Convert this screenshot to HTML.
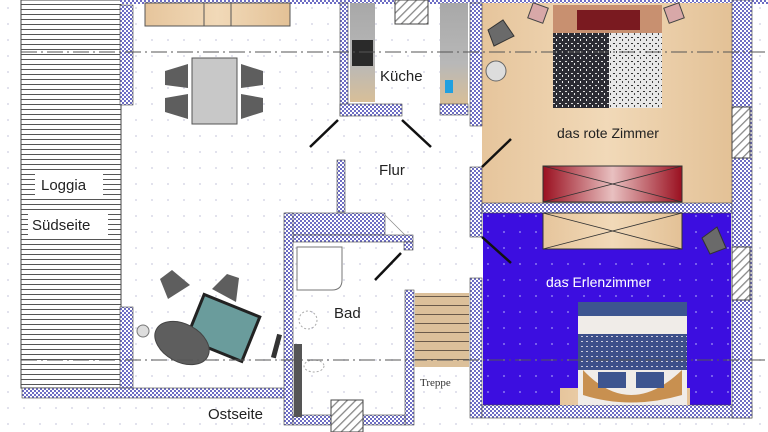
<!DOCTYPE html>
<html><head><meta charset="utf-8"><style>
html,body{margin:0;padding:0;background:#fff;width:768px;height:432px;overflow:hidden}
svg{display:block}
text{font-family:"Liberation Sans",sans-serif}
</style></head><body>
<svg width="768" height="432" viewBox="0 0 768 432" xmlns="http://www.w3.org/2000/svg">
<defs>
<pattern id="w" width="4" height="4" patternUnits="userSpaceOnUse">
<rect width="4" height="4" fill="#fff"/><rect width="2" height="2" fill="#6e6ec4"/><rect x="2" y="2" width="2" height="2" fill="#6e6ec4"/>
</pattern>
<pattern id="lg" width="10" height="5" patternUnits="userSpaceOnUse">
<rect width="10" height="5" fill="#fff"/><rect y="4" width="10" height="1" fill="#555"/>
</pattern>
<pattern id="h" width="6" height="6" patternUnits="userSpaceOnUse" patternTransform="rotate(45)">
<rect width="6" height="6" fill="#fff"/><rect width="1.3" height="6" fill="#888"/>
</pattern>
<pattern id="st" width="10" height="9" patternUnits="userSpaceOnUse">
<rect width="10" height="9" fill="#dcc09a"/><rect y="8" width="10" height="1.3" fill="#6a5a4a"/>
</pattern>
<pattern id="dots" width="16" height="16" patternUnits="userSpaceOnUse">
<circle cx="8" cy="8" r="1" fill="#d8d8e8"/>
</pattern>
<pattern id="bdots" width="16" height="16" patternUnits="userSpaceOnUse">
<rect width="16" height="16" fill="#3c0ee0"/><circle cx="8" cy="8" r="1" fill="#8a78f0"/>
</pattern>
<pattern id="sp1" width="6" height="6" patternUnits="userSpaceOnUse">
<rect width="6" height="6" fill="#2c2c34"/><rect x="1" y="1" width="2" height="1" fill="#ddd"/><rect x="4" y="3" width="1" height="2" fill="#eee"/>
</pattern>
<pattern id="sp2" width="6" height="6" patternUnits="userSpaceOnUse">
<rect width="6" height="6" fill="#e8e8e8"/><rect x="1" y="1" width="2" height="1" fill="#333"/><rect x="4" y="3" width="1" height="2" fill="#444"/>
</pattern>
<pattern id="sp3" width="5" height="5" patternUnits="userSpaceOnUse">
<rect width="5" height="5" fill="#3d4f8a"/><rect x="1" y="1" width="2" height="1" fill="#ccd"/>
</pattern>
<linearGradient id="tan" x1="0" x2="1"><stop offset="0" stop-color="#e6c59c"/><stop offset=".5" stop-color="#f1d9b8"/><stop offset="1" stop-color="#e3c196"/></linearGradient>
<linearGradient id="red" x1="0" x2="1"><stop offset="0" stop-color="#9a1020"/><stop offset=".5" stop-color="#e8c0c0"/><stop offset="1" stop-color="#9a1020"/></linearGradient>
<linearGradient id="gr" x1="0" x2="0" y1="0" y2="1"><stop offset="0" stop-color="#a8a8a8"/><stop offset=".6" stop-color="#b8b8b8"/><stop offset="1" stop-color="#d8bf98"/></linearGradient>
</defs>
<rect width="768" height="432" fill="url(#dots)"/>
<!-- Loggia -->
<rect x="21" y="0" width="100" height="388" fill="url(#lg)" stroke="#444" stroke-width="1"/>
<rect x="35" y="173" width="68" height="22" fill="#fff"/>
<rect x="28" y="213" width="80" height="22" fill="#fff"/>
<text x="41" y="190" font-size="15" fill="#222">Loggia</text>
<text x="32" y="230" font-size="15" fill="#222">Südseite</text>
<!-- walls living -->
<rect x="120" y="0" width="650" height="4" fill="url(#w)"/>
<rect x="120" y="5" width="13" height="100" fill="url(#w)" stroke="#444" stroke-width=".6"/>
<rect x="120" y="307" width="13" height="81" fill="url(#w)" stroke="#444" stroke-width=".6"/>
<rect x="22" y="388" width="263" height="10" fill="url(#w)" stroke="#444" stroke-width=".6"/>
<!-- couch -->
<rect x="145" y="3" width="145" height="23" fill="url(#tan)" stroke="#555"/>
<line x1="204" y1="3" x2="204" y2="26" stroke="#555"/><line x1="231" y1="3" x2="231" y2="26" stroke="#555"/>
<!-- table -->
<rect x="192" y="58" width="45" height="66" fill="#c8c8c8" stroke="#555"/>
<g fill="#5e5e5e"><polygon points="188,64 165,71 165,85 188,88"/><polygon points="188,94 165,98 165,112 188,119"/><polygon points="241,64 263,71 263,85 241,88"/><polygon points="241,94 263,98 263,112 241,119"/></g>
<!-- lounge -->
<polygon points="160,279 172,270 190,285 168,299" fill="#5e5e5e"/>
<polygon points="212,289 227,274 239,278 236,302" fill="#5e5e5e"/>
<g transform="rotate(22 220 330)"><rect x="192" y="303" width="60" height="48" fill="#6a9c9c" stroke="#222" stroke-width="3"/></g>
<ellipse cx="182" cy="343" rx="29" ry="19" transform="rotate(28 182 343)" fill="#5e5e5e" stroke="#444"/>
<circle cx="143" cy="331" r="6" fill="#ddd" stroke="#777"/>
<rect x="274" y="334" width="5" height="24" transform="rotate(15 276 346)" fill="#333"/>
<!-- kitchen -->
<rect x="350" y="3" width="25" height="99" fill="url(#gr)"/>
<rect x="352" y="40" width="21" height="26" fill="#2a2a2a"/>
<rect x="440" y="3" width="28" height="101" fill="url(#gr)"/>
<rect x="445" y="80" width="8" height="13" fill="#1fa0e0"/>
<rect x="340" y="3" width="8" height="113" fill="url(#w)" stroke="#444" stroke-width=".6"/>
<rect x="340" y="104" width="62" height="12" fill="url(#w)" stroke="#444" stroke-width=".6"/>
<rect x="440" y="104" width="28" height="11" fill="url(#w)" stroke="#444" stroke-width=".6"/>
<rect x="395" y="0" width="33" height="24" fill="url(#h)" stroke="#444"/>
<text x="380" y="81" font-size="15" fill="#222">Küche</text>
<line x1="310" y1="147" x2="338" y2="120" stroke="#111" stroke-width="2.5"/>
<line x1="402" y1="120" x2="431" y2="147" stroke="#111" stroke-width="2.5"/>
<text x="379" y="175" font-size="15" fill="#222">Flur</text>
<rect x="337" y="160" width="8" height="52" fill="url(#w)" stroke="#444" stroke-width=".6"/>
<!-- Bad -->
<rect x="285" y="213" width="100" height="22" fill="url(#w)" stroke="#444" stroke-width=".6"/>
<rect x="293" y="235" width="120" height="7" fill="url(#w)" stroke="#444" stroke-width=".6"/>
<rect x="404" y="242" width="9" height="8" fill="url(#w)" stroke="#444" stroke-width=".6"/>
<line x1="385" y1="215" x2="406" y2="236" stroke="#888" stroke-width=".7"/>
<rect x="284" y="213" width="9" height="212" fill="url(#w)" stroke="#444" stroke-width=".6"/>
<rect x="405" y="290" width="9" height="135" fill="url(#w)" stroke="#444" stroke-width=".6"/>
<rect x="293" y="415" width="112" height="10" fill="url(#w)" stroke="#444" stroke-width=".6"/>
<rect x="331" y="400" width="32" height="32" fill="url(#h)" stroke="#444"/>
<path d="M297 247 H342 V280 Q342 290 332 290 H297 Z" fill="#fff" stroke="#777"/>
<line x1="375" y1="280" x2="401" y2="253" stroke="#111" stroke-width="2.5"/>
<rect x="294" y="344" width="8" height="73" fill="#555"/>
<circle cx="308" cy="320" r="9" fill="none" stroke="#aaa" stroke-dasharray="2 2"/>
<ellipse cx="314" cy="366" rx="10" ry="6" fill="none" stroke="#aaa" stroke-dasharray="2 2"/>
<text x="334" y="318" font-size="15" fill="#222">Bad</text>
<text x="208" y="419" font-size="15" fill="#222">Ostseite</text>
<!-- stairs -->
<rect x="415" y="293" width="54" height="74" fill="url(#st)"/>
<text x="420" y="386" font-size="11" fill="#333" font-family="Liberation Serif,serif" style="font-family:'Liberation Serif',serif">Treppe</text>
<!-- right rooms -->
<rect x="482" y="3" width="250" height="200" fill="url(#tan)"/>
<rect x="483" y="213" width="248" height="192" fill="url(#bdots)"/>
<rect x="470" y="3" width="12" height="123" fill="url(#w)" stroke="#444" stroke-width=".6"/>
<rect x="470" y="167" width="12" height="70" fill="url(#w)" stroke="#444" stroke-width=".6"/>
<rect x="470" y="278" width="12" height="140" fill="url(#w)" stroke="#444" stroke-width=".6"/>
<rect x="482" y="203" width="250" height="10" fill="url(#w)" stroke="#444" stroke-width=".6"/>
<rect x="482" y="405" width="270" height="13" fill="url(#w)" stroke="#444" stroke-width=".6"/>
<rect x="732" y="0" width="20" height="418" fill="url(#w)" stroke="#444" stroke-width=".6"/>
<rect x="732" y="107" width="18" height="51" fill="url(#h)" stroke="#444"/>
<rect x="732" y="247" width="18" height="53" fill="url(#h)" stroke="#444"/>
<!-- red room -->
<rect x="553" y="5" width="109" height="103" fill="#c89070"/>
<rect x="577" y="10" width="63" height="20" fill="#7a1a20"/>
<rect x="553" y="33" width="56" height="75" fill="url(#sp1)"/>
<rect x="609" y="33" width="53" height="75" fill="url(#sp2)"/>
<rect x="530" y="5" width="16" height="16" transform="rotate(20 538 13)" fill="#d8a8a8" stroke="#444"/>
<rect x="666" y="5" width="16" height="16" transform="rotate(-20 674 13)" fill="#d8a8a8" stroke="#444"/>
<polygon points="488,30 503,20 514,36 494,46" fill="#6a6a6a" stroke="#333"/>
<circle cx="496" cy="71" r="10" fill="#ddd" stroke="#666"/>
<text x="557" y="138" font-size="14" fill="#222">das rote Zimmer</text>
<rect x="543" y="166" width="139" height="36" fill="url(#red)" stroke="#333"/>
<path d="M543 166 L682 202 M682 166 L543 202" stroke="#333" stroke-width=".8"/>
<line x1="482" y1="167" x2="511" y2="139" stroke="#111" stroke-width="2.5"/>
<!-- blue room -->
<rect x="543" y="213" width="139" height="36" fill="url(#tan)" stroke="#333"/>
<path d="M543 213 L682 249 M682 213 L543 249" stroke="#333" stroke-width=".8"/>
<polygon points="702,238 717,227 726,248 710,254" fill="#6a6a6a" stroke="#333"/>
<line x1="482" y1="237" x2="511" y2="263" stroke="#111" stroke-width="2.5"/>
<text x="546" y="287" font-size="14" fill="#fff">das Erlenzimmer</text>
<rect x="560" y="388" width="130" height="17" fill="url(#tan)"/>
<rect x="578" y="302" width="109" height="103" fill="#f0ece8"/>
<rect x="578" y="302" width="109" height="14" fill="#3d5590"/>
<rect x="578" y="334" width="109" height="36" fill="url(#sp3)"/>
<path d="M583 370 Q630 420 682 370 L682 395 Q630 410 583 395Z" fill="#c89050"/>
<rect x="598" y="372" width="28" height="16" fill="#3d5590"/><rect x="636" y="372" width="28" height="16" fill="#3d5590"/>
<!-- dash-dot lines -->
<g stroke="#555" stroke-width="1" stroke-dasharray="16 4 2 4" fill="none">
<line x1="21" y1="52" x2="768" y2="52"/>
<line x1="21" y1="360" x2="768" y2="360"/>
</g>
</svg>
</body></html>
